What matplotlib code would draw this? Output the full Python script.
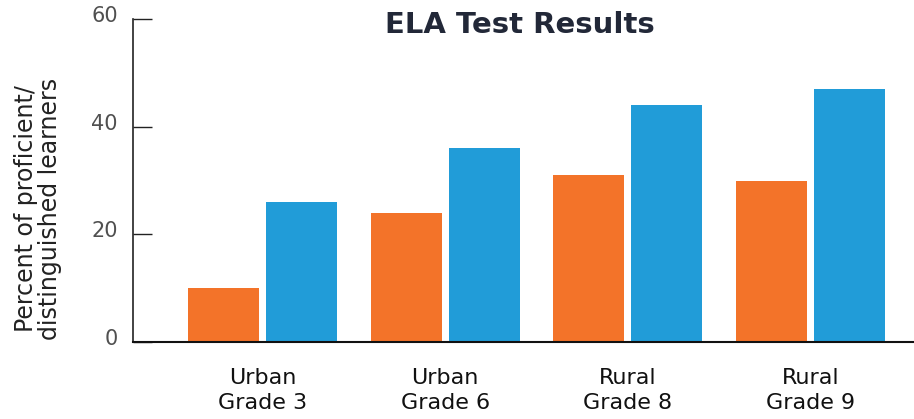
import matplotlib
matplotlib.use("Agg")
import matplotlib.pyplot as plt
import matplotlib.transforms as mtransforms
import numpy as np

categories = ["Urban\nGrade 3", "Urban\nGrade 6", "Rural\nGrade 8", "Rural\nGrade 9"]
series_orange = [10, 24, 31, 30]
series_blue = [26, 36, 44, 47]
yticks = [0, 20, 40, 60]

plt.rcParams['font.family'] = ['DejaVu Sans']

fig = plt.figure(figsize=(9.14, 4.19), dpi=100)
ax = fig.add_axes([133/914, 1-342/419, 1-133/914, (342-19)/419])

x = np.arange(len(categories))
w = 0.389
gap = 0.038
ax.bar(x - (w+gap)/2, series_orange, width=w, color="#F37329")
ax.bar(x + (w+gap)/2, series_blue, width=w, color="#219CD8")

ax.set_xlim(-0.709, 3.566)
ax.set_ylim(0, 60)
ax.set_yticks(yticks)
ax.set_yticklabels([str(t) for t in yticks], fontsize=15, color="#505050")
ax.tick_params(axis='y', direction='in', length=14, width=1.0, color="#222222", pad=11)
ax.set_xticks(x)
ax.set_xticklabels(categories, fontsize=16, color="#111111", linespacing=1.3)
ax.tick_params(axis='x', length=0, pad=19)

offset = mtransforms.ScaledTranslation(0, 5/100, fig.dpi_scale_trans)
for lab in ax.get_yticklabels():
    lab.set_transform(lab.get_transform() + offset)

for s in ['top', 'right']:
    ax.spines[s].set_visible(False)
ax.spines['left'].set_linewidth(1.2)
ax.spines['bottom'].set_linewidth(1.5)
ax.spines['left'].set_color("#222222")
ax.spines['bottom'].set_color("#111111")

fig.text(520/914, 1-25/419, "ELA Test Results", fontsize=21, fontweight='bold',
         color="#222838", ha='center', va='center')
fig.text(38/914, 1-209/419, "Percent of proficient/\ndistinguished learners", fontsize=17,
         color="#222222", rotation=90, ha='center', va='center', linespacing=1.0)

fig.savefig("out.png", dpi=100)
